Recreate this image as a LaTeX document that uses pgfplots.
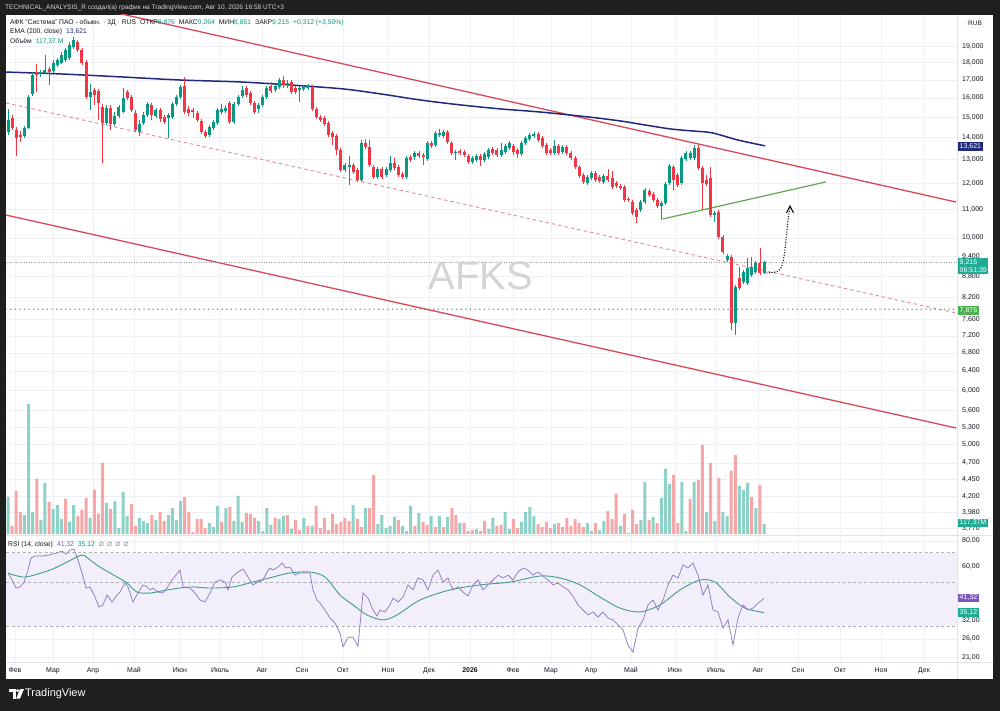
\documentclass[border=0pt]{standalone}
\usepackage{fontspec}
\setmainfont{Liberation Sans}
\newfontfamily\dejavu{DejaVu Sans}
\usepackage{pgfplots}
\usepackage{pgfplotstable}
\pgfplotsset{compat=1.18}
\usetikzlibrary{arrows.meta}

\definecolor{frame}{HTML}{1F1F1F}
\definecolor{headc}{HTML}{D1D4DC}
\definecolor{upc}{HTML}{089981}
\definecolor{dnc}{HTML}{F23645}
\definecolor{volup}{HTML}{8ED1C6}
\definecolor{voldn}{HTML}{F7A6A8}
\definecolor{ema}{HTML}{1F2A7C}
\definecolor{chan}{HTML}{D9485A}
\definecolor{midc}{HTML}{E58A95}
\definecolor{gline}{HTML}{5DAA4F}
\definecolor{gdot}{HTML}{43A047}
\definecolor{rsic}{HTML}{8E7CC3}
\definecolor{rsima}{HTML}{3D9E8C}
\definecolor{band}{HTML}{F3EFFA}
\definecolor{gridc}{HTML}{EEF0F5}
\definecolor{txt}{HTML}{131722}
\definecolor{tealb}{HTML}{22AB94}
\definecolor{purb}{HTML}{7E57C2}
\definecolor{greenb}{HTML}{4CAF50}
\definecolor{sep}{HTML}{E0E3EB}

\newcommand\fs{\fontsize{7}{8}\selectfont}

\pgfplotsset{
  upsel/.style={restrict expr to domain={\thisrow{u}}{0.5:1.5}, unbounded coords=discard},
  dnsel/.style={restrict expr to domain={\thisrow{u}}{-0.5:0.5}, unbounded coords=discard},
}

\pgfplotstableread{
i u o h l c
0 1 14.27 15.42 14.13 14.86
1 0 14.96 15.11 14.37 14.46
2 0 14.37 14.51 13.17 13.99
3 0 14.13 14.32 13.80 14.04
4 1 14.08 14.56 13.99 14.46
5 1 14.46 16.16 14.42 16.05
6 1 16.22 17.45 16.11 17.28
7 0 17.45 17.93 16.32 17.28
8 1 17.34 17.57 17.17 17.45
9 1 17.39 18.48 17.34 17.57
10 0 17.63 17.75 16.71 17.45
11 1 17.51 18.17 17.39 17.99
12 1 17.87 18.30 17.75 18.17
13 1 17.99 18.67 17.93 18.48
14 1 18.17 18.92 18.05 18.79
15 1 18.30 19.30 18.17 19.11
16 1 18.98 19.63 18.85 19.43
17 0 19.30 19.43 18.67 18.79
18 0 18.79 18.92 17.87 17.99
19 0 18.05 18.17 15.95 16.05
20 1 16.05 16.77 15.37 16.32
21 0 16.43 16.54 15.63 16.16
22 0 16.38 16.49 14.86 15.73
23 0 15.52 15.68 12.86 14.71
24 1 14.71 15.63 14.61 15.47
25 0 15.47 15.63 14.37 14.66
26 1 14.66 15.26 14.56 15.06
27 1 15.06 15.63 14.96 15.52
28 1 15.26 16.54 15.21 16.00
29 0 16.32 16.43 15.89 16.00
30 0 16.05 16.16 15.26 15.37
31 0 15.21 15.37 14.27 14.37
32 1 14.27 14.86 14.08 14.66
33 1 14.71 15.26 14.61 15.11
34 1 15.11 15.79 15.01 15.68
35 0 15.63 15.73 14.86 15.11
36 1 15.06 15.47 14.96 15.37
37 0 15.37 15.47 14.76 14.91
38 0 15.01 15.11 14.66 14.76
39 1 14.96 15.21 13.99 15.11
40 1 15.01 15.79 14.91 15.68
41 1 15.68 16.16 15.57 16.05
42 1 16.05 16.71 15.95 16.60
43 0 16.65 17.17 15.16 15.26
44 0 15.42 15.57 15.06 15.21
45 0 15.37 15.47 14.96 15.26
46 0 15.21 15.32 14.76 14.86
47 0 14.81 14.91 14.18 14.27
48 0 14.27 14.37 13.99 14.08
49 1 14.13 14.61 14.04 14.51
50 1 14.46 14.86 14.37 14.76
51 1 14.71 15.47 14.61 15.37
52 1 15.26 15.68 15.16 15.42
53 1 15.32 15.63 15.21 15.47
54 0 15.73 15.84 14.66 14.76
55 1 14.76 15.79 14.66 15.68
56 1 15.68 16.16 15.57 16.05
57 1 16.11 16.65 16.00 16.43
58 0 16.54 16.65 16.05 16.16
59 0 16.27 16.38 15.63 15.73
60 0 15.73 15.84 15.16 15.26
61 1 15.42 15.73 15.21 15.63
62 1 15.63 16.16 15.52 16.05
63 1 16.05 16.65 15.95 16.54
64 0 16.65 16.88 16.27 16.38
65 1 16.43 16.77 16.32 16.65
66 1 16.60 17.11 16.49 16.99
67 0 16.99 17.22 16.54 16.71
68 1 16.71 16.99 16.54 16.82
69 0 16.88 16.99 16.22 16.32
70 0 16.54 16.65 16.22 16.32
71 1 16.43 16.65 15.79 16.54
72 1 16.49 16.71 16.38 16.60
73 1 16.54 16.77 16.43 16.65
74 0 16.60 16.71 15.32 15.42
75 0 15.42 15.52 14.91 15.01
76 0 15.01 15.11 14.76 14.86
77 0 14.96 15.06 14.56 14.66
78 0 14.71 14.81 14.04 14.13
79 0 14.23 14.32 13.66 14.04
80 0 14.08 14.18 13.21 13.44
81 0 13.44 13.53 12.48 12.56
82 1 12.56 12.86 12.48 12.78
83 1 12.69 13.17 11.95 12.78
84 0 12.78 12.86 12.40 12.48
85 0 12.56 12.65 12.07 12.15
86 1 12.15 13.89 12.07 13.75
87 0 13.75 13.94 13.48 13.57
88 0 13.57 13.89 12.69 12.78
89 0 12.69 12.78 12.19 12.27
90 1 12.27 12.69 12.19 12.61
91 0 12.61 12.69 12.19 12.27
92 1 12.35 12.69 12.27 12.61
93 1 12.56 13.17 12.48 12.86
94 0 12.86 13.08 12.56 12.65
95 0 12.69 12.78 12.27 12.35
96 0 12.40 12.48 12.19 12.27
97 1 12.27 13.17 12.19 13.08
98 0 13.12 13.21 12.91 12.99
99 1 13.12 13.39 12.99 13.30
100 0 13.30 13.39 13.08 13.17
101 0 13.21 13.30 12.78 13.12
102 1 13.04 13.85 12.95 13.75
103 0 13.75 13.85 13.53 13.62
104 1 13.66 14.32 13.57 14.23
105 1 14.13 14.42 14.04 14.23
106 1 14.08 14.37 13.99 14.27
107 0 14.27 14.37 13.71 13.80
108 0 13.75 13.85 13.21 13.30
109 1 13.30 13.44 12.99 13.35
110 0 13.39 13.48 13.21 13.30
111 0 13.35 13.44 13.12 13.21
112 0 13.17 13.26 12.82 12.91
113 1 12.91 13.17 12.82 13.08
114 1 12.99 13.26 12.91 13.17
115 0 13.17 13.26 12.73 12.99
116 1 12.99 13.35 12.91 13.26
117 1 13.12 13.53 13.04 13.44
118 0 13.48 13.57 13.21 13.30
119 0 13.44 13.53 13.12 13.21
120 1 13.21 13.75 13.12 13.44
121 1 13.35 13.71 13.26 13.62
122 1 13.53 13.85 13.44 13.75
123 0 13.62 13.71 13.21 13.35
124 0 13.44 13.53 13.08 13.26
125 1 13.26 13.85 13.17 13.75
126 1 13.75 14.08 13.66 13.99
127 1 13.94 14.23 13.85 14.13
128 1 14.08 14.27 13.99 14.18
129 0 14.18 14.27 13.80 13.89
130 0 13.99 14.08 13.53 13.62
131 0 13.66 13.75 13.21 13.30
132 0 13.44 13.53 13.21 13.30
133 1 13.30 13.89 13.21 13.62
134 0 13.62 13.71 13.21 13.30
135 1 13.35 13.66 13.26 13.57
136 0 13.57 13.66 13.21 13.30
137 0 13.30 13.39 12.99 13.08
138 0 13.08 13.17 12.61 12.69
139 0 12.69 12.78 12.23 12.31
140 0 12.35 12.44 11.99 12.07
141 1 12.03 12.35 11.95 12.27
142 1 12.23 12.52 12.15 12.44
143 0 12.44 12.52 12.07 12.15
144 0 12.27 12.35 12.03 12.11
145 1 12.07 12.40 11.99 12.31
146 0 12.31 12.61 12.07 12.15
147 0 12.23 12.52 11.79 11.87
148 0 12.03 12.11 11.83 11.91
149 0 11.91 11.99 11.75 11.83
150 0 11.87 11.95 11.28 11.36
151 0 11.40 11.48 11.28 11.36
152 0 11.28 11.36 10.80 10.88
153 0 10.99 11.06 10.52 10.73
154 1 10.99 11.36 10.91 11.28
155 1 11.28 11.83 11.21 11.75
156 0 11.71 11.79 11.48 11.55
157 0 11.59 11.67 11.28 11.36
158 0 11.36 11.44 11.06 11.13
159 1 11.13 11.32 10.62 11.24
160 1 11.24 12.07 11.17 11.99
161 1 12.03 12.82 11.95 12.73
162 0 12.69 12.78 11.75 12.15
163 0 12.35 12.44 11.87 11.95
164 1 12.03 13.17 11.95 13.08
165 1 13.04 13.39 12.95 13.30
166 1 13.08 13.39 12.99 13.30
167 1 13.08 13.66 12.99 13.53
168 0 13.53 13.66 12.56 12.65
169 0 12.65 12.73 10.99 12.03
170 0 12.15 12.35 11.91 11.99
171 0 12.23 12.69 10.73 10.80
172 1 10.80 10.95 10.55 10.88
173 0 10.91 10.99 9.97 10.03
174 0 10.03 10.10 9.48 9.54
175 1 9.29 9.48 9.22 9.41
176 0 9.38 9.45 7.34 7.52
177 1 7.52 8.54 7.22 8.49
178 0 8.74 9.07 8.40 8.46
179 1 8.63 8.98 8.57 8.92
180 1 8.60 9.35 8.54 9.04
181 1 8.83 9.38 8.77 9.07
182 1 8.92 9.25 8.86 9.19
183 0 9.19 9.67 8.83 8.89
184 1 8.876 9.264 8.851 9.215
}\candles

\pgfplotstableread{
i u v
0 1 434
1 0 94
2 0 505
3 0 258
4 1 223
5 1 1526
6 1 258
7 0 646
8 1 164
9 1 599
10 0 376
11 1 294
12 1 340
13 1 176
14 0 411
15 1 141
16 1 340
17 0 211
18 0 282
19 0 423
20 1 188
21 0 517
22 0 235
23 0 834
24 1 364
25 0 294
26 1 387
27 1 70
28 1 493
29 1 211
30 0 352
31 0 94
32 1 188
33 1 153
34 1 129
35 0 223
36 1 164
37 0 258
38 0 153
39 1 223
40 1 305
41 1 164
42 1 387
43 0 434
44 0 258
45 0 23
46 0 176
47 0 176
48 0 70
49 1 129
50 1 82
51 1 329
52 0 141
53 1 305
54 0 317
55 1 153
56 1 446
57 1 141
58 0 247
59 0 235
60 0 188
61 1 153
62 1 35
63 1 305
64 1 106
65 0 188
66 1 176
67 1 211
68 0 223
69 1 59
70 0 164
71 0 47
72 1 188
73 0 94
74 1 94
75 0 329
76 0 70
77 0 188
78 0 47
79 0 235
80 0 117
81 0 141
82 0 188
83 0 153
84 1 340
85 0 176
86 0 82
87 1 305
88 0 305
89 0 693
90 1 117
91 1 223
92 1 70
93 1 94
94 1 200
95 0 164
96 1 94
97 1 35
98 1 329
99 0 94
100 1 247
101 0 141
102 0 106
103 1 211
104 0 82
105 1 211
106 0 82
107 1 200
108 0 305
109 0 223
110 1 129
111 0 129
112 0 35
113 0 47
114 1 59
115 0 35
116 0 153
117 1 59
118 1 188
119 0 94
120 0 106
121 1 258
122 1 59
123 0 176
124 0 70
125 1 141
126 1 258
127 1 317
128 1 211
129 0 117
130 0 82
131 0 141
132 0 70
133 1 117
134 0 129
135 0 82
136 0 188
137 0 94
138 0 176
139 0 129
140 0 82
141 1 129
142 1 35
143 0 129
144 1 47
145 1 153
146 0 270
147 0 176
148 0 470
149 1 94
150 0 235
151 1 12
152 0 282
153 0 117
154 1 164
155 1 610
156 0 164
157 1 200
158 0 129
159 1 423
160 1 763
161 1 587
162 0 693
163 0 129
164 1 610
165 1 35
166 0 411
167 1 610
168 0 634
169 0 1045
170 1 258
171 0 834
172 1 153
173 0 657
174 1 258
175 1 211
176 0 740
177 0 927
178 1 564
179 1 517
180 1 599
181 0 434
182 1 305
183 0 575
184 1 117.37
}\vol

\begin{document}
\begin{tikzpicture}
\useasboundingbox (0,0) rectangle (1000bp,-711bp);
\begin{scope}[x=1bp,y=-1bp]
  \fill[frame] (0,0) rectangle (1000,711);
  \fill[white] (6,15) rectangle (993,679);
\end{scope}

% ---------------- price pane ----------------
\begin{axis}[
  at={(6bp,-534bp)}, anchor=south west,
  width=951bp, height=519bp, scale only axis,
  xmin=6, xmax=957, ymode=log, ymin=3.704, ymax=21.13,
  axis line style={draw=none}, major tick length=0pt, minor tick length=0pt,
  yminorticks=false, minor y tick num=0,
  xtick={15,53,93,134,180,220,262,302,343,388,429,470,513,551,591,631,675,716,758,798,840,881,924},
  xticklabels={},
  ytick={19,18,17,16,15,14,13,12,11,10,9.4,8.8,8.2,7.6,7.2,6.8,6.4,6,5.6,5.3,5,4.7,4.45,4.2,3.98,3.77},
  yticklabels={{19,000},{18,000},{17,000},{16,000},{15,000},{14,000},{13,000},{12,000},{11,000},{10,000},{9,400},{8,800},{8,200},{7,600},{7,200},{6,800},{6,400},{6,000},{5,600},{5,300},{5,000},{4,700},{4,450},{4,200},{3,980},{3,770}},
  yticklabel pos=right,
  yticklabel style={anchor=west, inner sep=0pt, xshift=5bp, font=\fs, text=txt},
  grid=major, major grid style={gridc, line width=0.6bp},
]
% channel lines
\addplot[chan, line width=1.3bp] coordinates {(100,21.55) (956,11.28)};
\addplot[chan, line width=1.3bp] coordinates {(6,10.80) (956,5.286)};
\addplot[midc, line width=0.9bp, dash pattern=on 3.5bp off 3bp] coordinates {(6,15.73) (956,7.775)};
% horizontal lines
\addplot[gray!75, line width=0.6bp, dash pattern=on 1bp off 1.5bp] coordinates {(6,9.215) (957,9.215)};
\addplot[gdot, line width=1.5bp, line cap=round, dash pattern=on 0bp off 4.6bp] coordinates {(6,7.875) (957,7.875)};
% EMA 200
\addplot[ema, line width=1.5bp, smooth] coordinates {
(6,17.45) (60,17.34) (120,17.17) (180,16.99) (240,16.88) (290,16.71) (343,16.49)
(380,16.22) (420,15.89) (460,15.63) (500,15.42) (540,15.26) (588,15.01) (620,14.81)
(645,14.61) (670,14.42) (692,14.32) (712,14.23) (738,13.89) (765,13.62)};
% green line
\addplot[gline, line width=1.2bp] coordinates {(663,10.66) (826,12.07)};
% candles: wicks
\addplot[upsel, draw=none, mark=none,
  error bars/.cd, y dir=plus, y explicit, error mark=none,
  error bar style={draw=upc, line width=0.8bp}]
  table[x expr=8+4.109*\thisrow{i}, y=l, y error expr=\thisrow{h}-\thisrow{l}] {\candles};
\addplot[dnsel, draw=none, mark=none,
  error bars/.cd, y dir=plus, y explicit, error mark=none,
  error bar style={draw=dnc, line width=0.8bp}]
  table[x expr=8+4.109*\thisrow{i}, y=l, y error expr=\thisrow{h}-\thisrow{l}] {\candles};
% candles: bodies
\addplot[upsel, draw=none, mark=none,
  error bars/.cd, y dir=plus, y explicit, error mark=none,
  error bar style={draw=upc, line width=3bp}]
  table[x expr=8+4.109*\thisrow{i}, y=o, y error expr=\thisrow{c}-\thisrow{o}] {\candles};
\addplot[dnsel, draw=none, mark=none,
  error bars/.cd, y dir=plus, y explicit, error mark=none,
  error bar style={draw=dnc, line width=3bp}]
  table[x expr=8+4.109*\thisrow{i}, y=c, y error expr=\thisrow{o}-\thisrow{c}] {\candles};
% projected path (dotted arrow)
\addplot[black, line width=1.4bp, line cap=round, dash pattern=on 0bp off 2.6bp, smooth]
  coordinates {(767,8.89) (778,8.95) (783,9.22) (786,9.93) (788,10.62) (790,11.05)};
\addplot[black, line width=1bp] coordinates {(786.5,10.88) (790,11.13) (793.5,10.88)};
\end{axis}

% ---------------- volume ----------------
\begin{axis}[
  at={(6bp,-534bp)}, anchor=south west,
  width=951bp, height=519bp, scale only axis,
  xmin=6, xmax=957, ymin=0, ymax=6090, hide axis,
]
\addplot[upsel, ybar, bar width=3bp, bar shift=0pt, fill=volup, draw=none]
  table[x expr=8+4.109*\thisrow{i}, y=v] {\vol};
\addplot[dnsel, ybar, bar width=3bp, bar shift=0pt, fill=voldn, draw=none]
  table[x expr=8+4.109*\thisrow{i}, y=v] {\vol};
\end{axis}

% ---------------- RSI ----------------
\begin{axis}[
  at={(6bp,-662bp)}, anchor=south west,
  width=951bp, height=126bp, scale only axis,
  xmin=6, xmax=957, ymode=log, ymin=19.92, ymax=84.73,
  axis line style={draw=none}, major tick length=0pt, minor tick length=0pt,
  yminorticks=false, minor y tick num=0,
  xtick={15,53,93,134,180,220,262,302,343,388,429,470,513,551,591,631,675,716,758,798,840,881,924},
  xticklabels={Фев,Мар,Апр,Май,Июн,Июль,Авг,Сен,Окт,Ноя,Дек,\textbf{2026},Фев,Мар,Апр,Май,Июн,Июль,Авг,Сен,Окт,Ноя,Дек},
  xticklabel style={font=\fs, text=txt, anchor=north, inner sep=0pt, yshift=-5bp},
  ytick={21,26,32,60,80},
  yticklabels={{21,00},{26,00},{32,00},{60,00},{80,00}},
  yticklabel pos=right,
  yticklabel style={anchor=west, inner sep=0pt, xshift=5bp, font=\fs, text=txt},
  grid=major, major grid style={gridc, line width=0.6bp},
]
\fill[band] (axis cs:6,30) rectangle (axis cs:957,70);
\addplot[gray!60, line width=0.6bp, dash pattern=on 3bp off 2.5bp] coordinates {(6,70) (957,70)};
\addplot[gray!60, line width=0.6bp, dash pattern=on 3bp off 2.5bp] coordinates {(6,50) (957,50)};
\addplot[gray!60, line width=0.6bp, dash pattern=on 3bp off 2.5bp] coordinates {(6,30) (957,30)};
% RSI-based MA
\addplot[rsima, line width=0.9bp, smooth] coordinates {
(8,55.4) (25,52.9) (50,57.3) (67,62.8) (82,68.1) (90,64.3) (100,59.3) (117,52.9)
(127,49.4) (137,44.5) (150,44.0) (167,45.6) (180,46.6) (193,47.2) (210,46.6) (233,47.2)
(253,49.9) (273,52.9) (290,55.4) (310,56.0) (325,52.9) (340,43.0) (353,38.4) (367,34.2)
(383,32.3) (397,34.2) (420,40.6) (450,45.6) (480,48.3) (510,49.9) (540,53.5) (560,52.3)
(580,48.3) (600,42.0) (620,37.0) (640,35.4) (660,38.4) (680,45.6) (700,51.1) (715,49.9)
(730,42.0) (745,37.0) (764,35.12)};
% RSI
\addplot[rsic, line width=0.75bp] coordinates {
(8,55.4) (12,51.1) (16,46.6) (20,47.2) (24,49.9) (28,57.3) (31,65.8) (35,67.3) (43,67.3)
(49,68.1) (53,68.9) (57,69.7) (62,71.3) (66,68.9) (70,72.1) (74,72.97) (78,64.3) (82,55.4)
(86,46.6) (90,47.2) (95,42.0) (99,37.5) (103,38.4) (107,43.0) (112,39.7) (117,43.0)
(120,44.5) (125,49.4) (128,47.2) (133,39.7) (138,44.0) (143,48.3) (147,47.2) (150,45.6)
(153,46.6) (158,44.5) (163,44.0) (167,46.6) (172,51.1) (180,57.3) (183,47.2) (190,46.6)
(195,44.0) (200,40.6) (205,39.7) (210,44.0) (215,49.9) (220,51.1) (225,49.9) (228,45.6)
(232,52.9) (238,56.0) (243,58.0) (248,52.9) (253,48.3) (258,49.9) (263,51.1) (267,56.0)
(270,58.7) (273,57.3) (278,59.3) (282,62.1) (286,58.7) (290,59.3) (295,54.1) (300,55.4)
(305,55.4) (310,55.4) (313,45.6) (317,40.6) (320,39.2) (325,36.2) (330,33.0) (335,31.2)
(340,27.8) (343,23.7) (348,26.5) (353,26.5) (358,23.9) (363,44.0) (368,41.5) (373,36.2)
(377,33.8) (380,36.2) (385,35.4) (390,38.4) (393,41.5) (398,39.7)
(403,42.0) (408,48.3) (413,45.6) (418,52.3) (423,51.1) (428,45.6) (433,54.1) (438,57.3)
(443,49.9) (448,52.3) (453,45.6) (458,47.2) (463,44.5) (468,42.5) (473,48.3) (478,51.1)
(483,45.6) (488,48.3) (493,51.1) (498,54.1) (503,52.3) (508,54.1) (513,51.1) (518,56.0)
(523,58.7) (528,57.3) (533,54.1) (538,56.0) (543,53.5) (548,51.1) (553,48.3) (558,49.4)
(563,47.2) (568,45.6) (573,42.5) (578,38.4) (583,36.2) (588,34.2) (593,35.4) (598,33.4)
(603,35.4) (608,33.0) (613,32.3) (618,30.5) (623,28.8) (628,24.2) (633,22.3) (638,29.4)
(643,32.3) (648,38.4) (653,40.6) (658,36.2) (663,40.6) (668,48.3) (673,54.1) (678,52.3)
(683,60.7) (688,58.7) (693,62.1) (698,54.1) (703,43.0) (708,48.3) (713,36.2) (718,35.4)
(723,29.4) (728,32.3) (733,24.2) (738,33.0) (743,38.4) (748,36.2) (753,37.0) (758,39.2)
(764,41.32)};
\end{axis}

% ---------------- overlays ----------------
\begin{scope}[x=1bp,y=-1bp]
  % separators
  \draw[sep, line width=0.8bp] (6,535) -- (993,535);
  \draw[sep, line width=0.6bp] (6,662) -- (993,662);
  \draw[sep, line width=0.6bp] (957,15) -- (957,679);
  % watermark
  \node[text=black!17, font=\fontsize{40}{44}\selectfont] at (481,276) {AFKS};
  % header
  \node[anchor=west, inner sep=0pt, text=headc, font=\fontsize{6.6}{8}\selectfont] at (5,7.5)
    {TECHNICAL\_ANALYSIS\_R создал(а) график на TradingView.com, Авг 10, 2026 16:58 UTC+3};
  % legends
  \node[anchor=west, inner sep=0pt, text=txt, font=\fontsize{6.8}{8}\selectfont] at (10,22.5)
    {АФК "Система" ПАО - обыкн. · 3Д · RUS\hspace{4bp}ОТКР\textcolor{upc}{8,876}\hspace{4bp}МАКС\textcolor{upc}{9,264}\hspace{4bp}МИН\textcolor{upc}{8,851}\hspace{4bp}ЗАКР\textcolor{upc}{9,215}\hspace{4bp}\textcolor{upc}{+0,312 (+3,50\%)}};
  \node[anchor=west, inner sep=0pt, text=txt, font=\fontsize{6.8}{8}\selectfont] at (10,32)
    {EMA (200, close)\hspace{4bp}\textcolor{ema}{13,621}};
  \node[anchor=west, inner sep=0pt, text=txt, font=\fontsize{6.8}{8}\selectfont] at (10,41)
    {Объём\hspace{4bp}\textcolor{upc}{117,37 M}};
  \node[anchor=west, inner sep=0pt, text=txt, font=\fontsize{6.8}{8}\selectfont] at (8,544.5)
    {RSI (14, close)\hspace{4bp}\textcolor{purb}{41,32}\hspace{4bp}\textcolor{upc}{35,12}\hspace{4bp}\textcolor{txt!70}{\dejavu\fontsize{6}{7}\selectfont ∅\hspace{3bp}∅\hspace{3bp}∅\hspace{3bp}∅}};
  % right scale boxes
  \node[draw=sep, rounded corners=1.5bp, inner sep=2bp, text=txt, font=\fontsize{6.5}{7}\selectfont] at (975,23) {RUB};
  \node[fill=ema, text=white, anchor=west, inner sep=1.5bp, font=\fs] at (958,146.5) {13,621};
  \node[fill=tealb, text=white, anchor=west, inner sep=1.5bp, align=left, font=\fontsize{7}{7.6}\selectfont] at (958,266) {9,215\\06:51:39};
  \node[fill=greenb, text=white, anchor=west, inner sep=1.5bp, font=\fs] at (958,310.5) {7,875};
  \node[fill=tealb, text=white, anchor=west, inner sep=1.5bp, font=\fs] at (958,523) {117,37M};
  \node[fill=purb, text=white, anchor=west, inner sep=1.5bp, font=\fs] at (958,598) {41,32};
  \node[fill=tealb, text=white, anchor=west, inner sep=1.5bp, font=\fs] at (958,612.5) {35,12};
  % TradingView logo
  \fill[white] (9,689) rectangle (15.5,692);
  \fill[white] (12.5,689) rectangle (15.5,698.5);
  \fill[white] (17.6,690.6) circle (1.6);
  \fill[white] (20,689) -- (24,689) -- (20,698.5) -- (16.2,698.5) -- cycle;
  \node[anchor=west, inner sep=0pt, text=white, font=\fontsize{11}{12}\selectfont] at (25,694) {TradingView};
\end{scope}
\end{tikzpicture}
\end{document}
